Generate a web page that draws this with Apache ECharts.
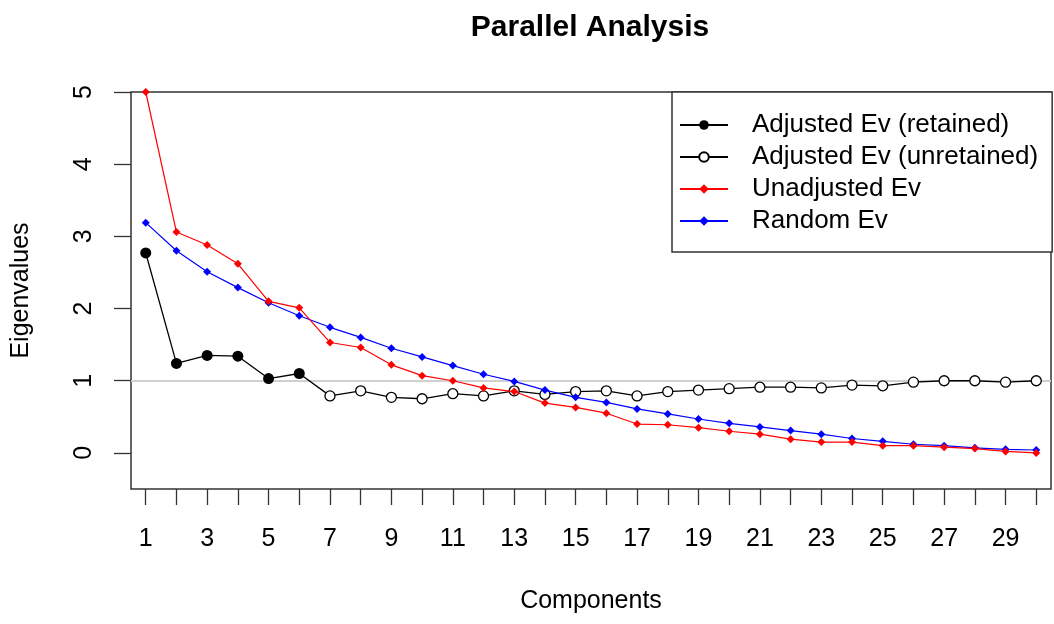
<!DOCTYPE html>
<html>
<head>
<meta charset="utf-8">
<script src="https://cdn.jsdelivr.net/npm/echarts@6/dist/echarts.min.js"></script>
<style>html,body{margin:0;padding:0;background:#fff}#c{width:1054px;height:624px}</style>
</head>
<body>
<div id="c"></div>
<script>
const components = [1,2,3,4,5,6,7,8,9,10,11,12,13,14,15,16,17,18,19,20,21,22,23,24,25,26,27,28,29,30];
const adjustedEv = [2.77,1.24,1.35,1.34,1.03,1.10,0.79,0.86,0.77,0.75,0.82,0.79,0.86,0.81,0.85,0.86,0.79,0.85,0.87,0.89,0.91,0.91,0.90,0.94,0.93,0.98,1.00,1.00,0.98,1.00];
const unadjustedEv = [5.00,3.06,2.88,2.62,2.10,2.01,1.53,1.46,1.22,1.07,1.00,0.90,0.85,0.69,0.63,0.55,0.40,0.39,0.35,0.30,0.26,0.19,0.15,0.15,0.10,0.10,0.08,0.06,0.02,0.00];
const randomEv = [3.19,2.80,2.51,2.29,2.08,1.90,1.74,1.60,1.45,1.33,1.21,1.09,0.99,0.87,0.77,0.70,0.61,0.54,0.47,0.41,0.36,0.31,0.26,0.20,0.16,0.12,0.10,0.07,0.05,0.04];
const retainedCount = 6;
const xTicks = components;
const xTickLabels = [1,3,5,7,9,11,13,15,17,19,21,23,25,27,29];
const yTickLabels = [0,1,2,3,4,5];
const refLine = 1;

const retainedData = components.slice(0, retainedCount).map((c,i)=>[c, adjustedEv[i]]);
const unretainedData = components.slice(retainedCount-1).map((c,i)=>{
  const idx = i + retainedCount - 1;
  const d = {value:[c, adjustedEv[idx]]};
  if (i === 0) d.symbol = 'none';
  return d;
});
const unadjData = components.map((c,i)=>[c, unadjustedEv[i]]);
const randData = components.map((c,i)=>[c, randomEv[i]]);

const FONT = '"Liberation Sans", Arial, sans-serif';
const chart = echarts.init(document.getElementById('c'), null, {renderer:'canvas'});
chart.setOption({
  animation: false,
  backgroundColor: '#fff',
  textStyle: {fontFamily: FONT},
  title: {
    text: 'Parallel Analysis',
    left: 590, top: 13, textAlign: 'center', padding: 0,
    textStyle: {fontFamily: FONT, fontSize: 30, fontWeight: 'bold', color: '#000'}
  },
  grid: {left: 131, right: 3, top: 92, bottom: 135, show: true, borderColor: '#333', borderWidth: 1.5, backgroundColor: 'transparent'},
  xAxis: {
    type: 'value', min: 0.52, max: 30.48,
    name: 'Components', nameLocation: 'middle', nameGap: 100,
    nameTextStyle: {fontFamily: FONT, fontSize: 25, color: '#000'},
    axisLine: {show: false, onZero: false},
    axisTick: {show: true, inside: false, length: 16, customValues: xTicks, lineStyle: {color: '#333', width: 1.3}},
    axisLabel: {show: true, margin: 38, customValues: xTickLabels, fontFamily: FONT, fontSize: 25, color: '#000'},
    splitLine: {show: false}
  },
  yAxis: {
    type: 'value', min: -0.5, max: 5,
    name: 'Eigenvalues', nameLocation: 'middle', nameGap: 97, nameRotate: 90,
    nameTextStyle: {fontFamily: FONT, fontSize: 25, color: '#000'},
    axisLine: {show: false, onZero: false},
    axisTick: {show: true, inside: false, length: 17, customValues: yTickLabels, lineStyle: {color: '#333', width: 1.3}},
    axisLabel: {show: true, rotate: 90, margin: 34, customValues: yTickLabels, fontFamily: FONT, fontSize: 25, color: '#000'},
    splitLine: {show: false}
  },
  legend: {
    orient: 'vertical', left: 672, top: 92,
    padding: [20, 14, 18, 7],
    itemWidth: 48, itemHeight: 12, itemGap: 6,
    borderColor: '#333', borderWidth: 1.5, backgroundColor: '#fff',
    textStyle: {fontFamily: FONT, fontSize: 26, color: '#000', lineHeight: 26, padding: [0,0,0,19]},
    data: ['Adjusted Ev (retained)', 'Adjusted Ev (unretained)', 'Unadjusted Ev', 'Random Ev']
  },
  series: [
    {
      name: 'Adjusted Ev (retained)', type: 'line', data: retainedData,
      symbol: 'circle', symbolSize: 11, z: 3,
      lineStyle: {color: '#000', width: 1.3}, itemStyle: {color: '#000'},
      markLine: {
        silent: true, symbol: 'none', label: {show: false}, z: 1,
        lineStyle: {color: '#d0d0d0', width: 2, type: 'solid'},
        data: [{yAxis: refLine}]
      }
    },
    {
      name: 'Adjusted Ev (unretained)', type: 'line', data: unretainedData,
      symbol: 'circle', symbolSize: 10, z: 3,
      lineStyle: {color: '#000', width: 1.3},
      itemStyle: {color: '#fff', borderColor: '#000', borderWidth: 1.3}
    },
    {
      name: 'Random Ev', type: 'line', data: randData,
      symbol: 'diamond', symbolSize: 8, z: 4,
      lineStyle: {color: '#0000ff', width: 1.2}, itemStyle: {color: '#0000ff'}
    },
    {
      name: 'Unadjusted Ev', type: 'line', data: unadjData,
      symbol: 'diamond', symbolSize: 8, z: 5,
      lineStyle: {color: '#ff0000', width: 1.2}, itemStyle: {color: '#ff0000'}
    }
  ]
});
</script>
</body>
</html>
